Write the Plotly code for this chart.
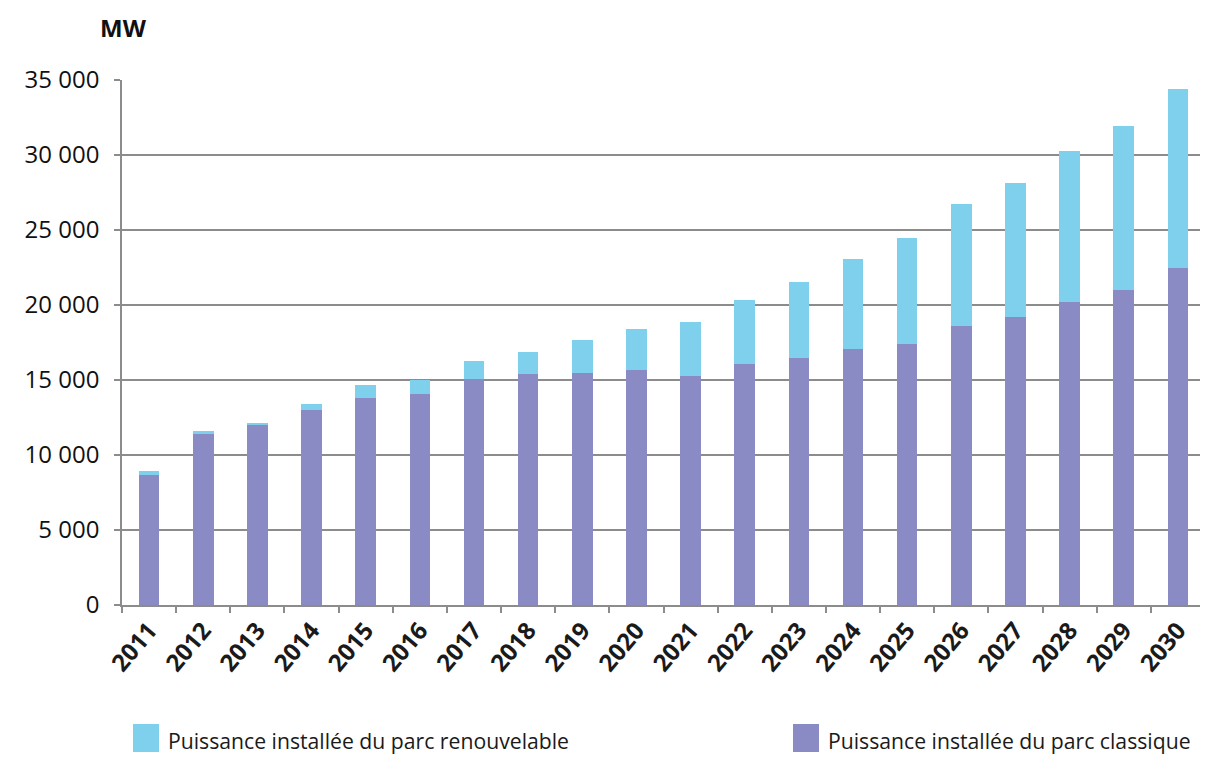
import plotly.graph_objects as go

years = [str(y) for y in range(2011, 2031)]
classique = [8650, 11400, 12000, 13000, 13800, 14050, 15050, 15400, 15500, 15700,
             15300, 16050, 16450, 17050, 17400, 18600, 19200, 20200, 21000, 22450]
total = [8950, 11600, 12120, 13400, 14650, 15000, 16300, 16900, 17650, 18400,
         18870, 20330, 21530, 23050, 24470, 26730, 28130, 30250, 31950, 34400]
renouvelable = [t - c for t, c in zip(total, classique)]

y_tickvals = [0, 5000, 10000, 15000, 20000, 25000, 30000, 35000]
y_ticktext = ["0", "5 000", "10 000", "15 000", "20 000", "25 000", "30 000", "35 000"]

name_classique = "Puissance installée du parc classique"
name_renouv = "Puissance installée du parc renouvelable"
col_classique = "#8A8AC4"
col_renouv = "#7FD0EC"

FONT = "Open Sans"

# figure geometry (page is offset by the 8px body margin)
W, H = 1200, 770
ML, MR, MT, MB = 114, 3, 72, 173
PW, PH = W - ML - MR, H - MT - MB
OFF = 8


def px_to_paper_x(page_x):
    return (page_x - OFF - ML) / PW


def px_to_paper_y(page_y):
    return (H - MB - (page_y - OFF)) / PH


fig = go.Figure()
fig.add_trace(go.Bar(x=years, y=classique, name=name_classique,
                     marker=dict(color=col_classique, line=dict(width=0)), showlegend=False))
fig.add_trace(go.Bar(x=years, y=renouvelable, name=name_renouv,
                     marker=dict(color=col_renouv, line=dict(width=0)), showlegend=False))

fig.update_layout(
    barmode="stack",
    bargap=0.62,
    width=W, height=H,
    margin=dict(l=ML, r=MR, t=MT, b=MB),
    paper_bgcolor="white", plot_bgcolor="white",
    font=dict(family=FONT, color="#222222"),
)
fig.update_xaxes(
    type="category",
    showline=True, linecolor="#8c8c8c", linewidth=1.5,
    ticks="outside", ticklen=6, tickcolor="#8c8c8c", tickwidth=1.5,
    tickson="boundaries",
    tickangle=-50,
    tickfont=dict(family=FONT, size=24, color="#1a1a1a", weight="bold"),
    showgrid=False,
)
fig.update_yaxes(
    range=[0, 35000],
    tickvals=y_tickvals, ticktext=y_ticktext,
    showline=True, linecolor="#8c8c8c", linewidth=1.5,
    ticks="outside", ticklen=6, tickcolor="#8c8c8c", tickwidth=1.5,
    showgrid=True, gridcolor="#8c8c8c", gridwidth=1.5,
    tickfont=dict(family=FONT, size=24, color="#111111"),
    ticklabelstandoff=10,
    zeroline=False,
)

# axis unit title
fig.add_annotation(text="<b>MW</b>", xref="paper", yref="paper",
                   x=px_to_paper_x(98), y=px_to_paper_y(9),
                   xanchor="left", yanchor="top", showarrow=False,
                   font=dict(family=FONT, size=24, color="#111111"))

# legend drawn beneath the axis
legend_items = [(name_renouv, col_renouv, 133), (name_classique, col_classique, 793)]
for name, col, px in legend_items:
    fig.add_shape(type="rect", xref="paper", yref="paper",
                  x0=px_to_paper_x(px), x1=px_to_paper_x(px + 26),
                  y0=px_to_paper_y(752), y1=px_to_paper_y(724),
                  fillcolor=col, line=dict(width=0))
    fig.add_annotation(text=name, xref="paper", yref="paper",
                       x=px_to_paper_x(px + 33), y=px_to_paper_y(740),
                       xanchor="left", yanchor="middle", showarrow=False,
                       font=dict(family=FONT, size=21.2, color="#1a1a1a"))

fig.write_html("out.html")
